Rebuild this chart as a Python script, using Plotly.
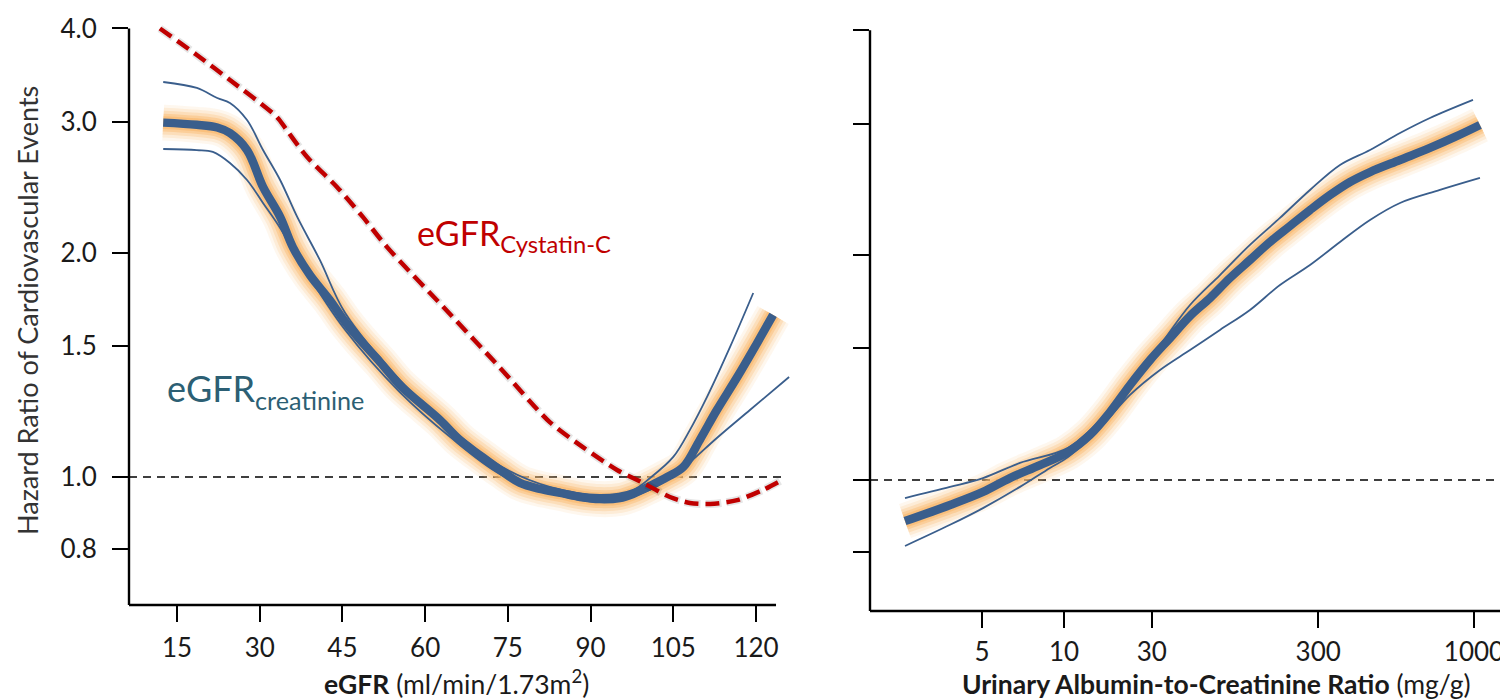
import numpy as np
import plotly.graph_objects as go

# ---------------- data ----------------
# Left panel: eGFR (ml/min/1.73m2) vs hazard ratio
EGFR_CR_X = [12.5, 18.6, 22.3, 24.6, 27.7, 30.6, 33.7, 36.0, 39.1, 42.7, 45.5, 48.2, 51.8, 55.4,
             59.1, 62.7, 66.3, 69.9, 73.6, 77.2, 80.8, 84.5, 88.1, 91.7, 95.3, 97.7, 100.8,
             103.9, 106.8, 109.8, 112.9, 116.6, 120.2, 123.1]
EGFR_CR_HR = [2.99, 2.97, 2.945, 2.895, 2.747, 2.451, 2.234, 2.035, 1.867, 1.728, 1.615, 1.527,
              1.427, 1.329, 1.257, 1.192, 1.121, 1.070, 1.022, 0.982, 0.964, 0.952, 0.940, 0.934,
              0.937, 0.949, 0.973, 1.0, 1.031, 1.121, 1.230, 1.362, 1.513, 1.650]

EGFR_CR_UP_X = [12.5, 18.6, 22.3, 24.6, 27.7, 30.6, 33.7, 36.8, 40.9, 45.5, 55.4, 64.5, 73.6,
                82.6, 91.7, 97.7, 100.8, 105.0, 108.0, 111.1, 115.3, 119.5]
EGFR_CR_UP_HR = [3.390, 3.328, 3.226, 3.177, 3.014, 2.747, 2.504, 2.234, 1.956, 1.660, 1.350,
                 1.164, 1.035, 0.970, 0.946, 0.961, 0.997, 1.064, 1.156, 1.280, 1.495, 1.766]

EGFR_CR_LO_X = [12.5, 18.6, 21.5, 24.6, 27.7, 30.6, 33.7, 37.3, 45.5, 55.4, 64.5, 73.6, 82.6,
                91.7, 99.0, 105.7, 108.5, 112.9, 118.9, 126.0]
EGFR_CR_LO_HR = [2.756, 2.747, 2.731, 2.639, 2.504, 2.332, 2.159, 1.944, 1.575, 1.300, 1.132,
                 1.009, 0.952, 0.926, 0.949, 1.012, 1.054, 1.128, 1.230, 1.362]

EGFR_CYS_X = [11.9, 18.6, 24.6, 33.1, 34.9, 38.6, 44.0, 48.7, 53.1, 64.5, 73.6, 82.6, 88.6,
              94.8, 99.5, 104.4, 108.0, 111.7, 116.6, 121.3, 124.4]
EGFR_CYS_HR = [4.0, 3.685, 3.411, 3.043, 2.922, 2.688, 2.451, 2.234, 2.035, 1.655, 1.401, 1.185,
               1.097, 1.022, 0.982, 0.940, 0.923, 0.920, 0.931, 0.961, 0.988]

EGFR_TICKS = [15, 30, 45, 60, 75, 90, 105, 120]

# Right panel: ACR, plotted on the figure's own (non-uniform) ACR scale positions
ACR_TICK_LABELS = ["5", "10", "30", "300", "1000"]
ACR_TICK_POS = [0.0, 1.0, 2.07, 4.10, 6.0]

ACR_X = [-0.939, -0.390, 0.012, 0.341, 0.707, 1.049, 1.317, 1.561, 1.805, 2.049, 2.293, 2.537,
         2.780, 3.024, 3.268, 3.512, 3.756, 4.0, 4.244, 4.488, 4.732, 5.098, 5.463, 5.768, 6.073]
ACR_HR = [0.881, 0.926, 0.964, 1.006, 1.047, 1.090, 1.149, 1.233, 1.340, 1.447, 1.549, 1.658,
          1.752, 1.864, 1.970, 2.083, 2.188, 2.298, 2.407, 2.506, 2.584, 2.682, 2.783, 2.879, 2.987]

ACR_UP_X = [-0.939, -0.390, 0.012, 0.463, 1.049, 1.439, 1.805, 2.171, 2.537, 2.902, 3.268, 3.634,
            4.0, 4.366, 4.732, 5.098, 5.463, 5.988]
ACR_UP_HR = [0.946, 0.979, 1.006, 1.054, 1.104, 1.203, 1.353, 1.516, 1.715, 1.881, 2.064, 2.243,
             2.445, 2.641, 2.766, 2.914, 3.052, 3.227]

ACR_LO_X = [-0.939, -0.390, 0.012, 0.463, 0.829, 1.049, 1.439, 1.805, 2.171, 2.537, 2.902, 3.268,
            3.634, 4.0, 4.366, 4.732, 5.098, 5.585, 6.073]
ACR_LO_HR = [0.816, 0.871, 0.917, 0.979, 1.038, 1.073, 1.174, 1.300, 1.404, 1.493, 1.588, 1.689,
             1.824, 1.940, 2.083, 2.229, 2.349, 2.445, 2.537]

HR_TICKS = [0.8, 1.0, 1.5, 2.0, 3.0, 4.0]
HR_TICK_TEXT = ["0.8", "1.0", "1.5", "2.0", "3.0", "4.0"]

# ---------------- styling ----------------
OFF = 8                      # page body margin of the html output
WIN_W, WIN_H = 1508, 699
W, H = WIN_W - OFF, WIN_H - OFF
BLUE = "#3A5E8C"
RED = "#C00000"
TEAL = "#2C5F74"
FONT = "Lato"


def fx(px):
    return (px - OFF) / W


def fy(py):
    return (WIN_H - py) / H


# axis geometry (window pixels)
LX0, LX1 = 129, 800
LY_BOT, LY_TOP = 605, 12
RX0, RX1 = 870, 1508
RY_BOT, RY_TOP = 611, 12

x1_range = [6.295, 127.98]
y1_range = [-(LY_BOT - 477) / 745, (477 - LY_TOP) / 745]
x2_range = [-1.366, 6.415]
y2_range = [-(RY_BOT - 480) / 747, (480 - RY_TOP) / 747]

fig = go.Figure()


def add_curve_set(xa, ya, xs, ys, xu, yu, xl, yl):
    for w, a in [(36, 0.12), (30, 0.18), (24, 0.28), (18, 0.45), (13, 0.7)]:
        fig.add_trace(go.Scatter(x=xs, y=ys, mode="lines", xaxis=xa, yaxis=ya,
                                 line=dict(color=f"rgba(250,186,112,{a})", width=w,
                                           shape="spline", smoothing=1.0),
                                 hoverinfo="skip", showlegend=False))
    for cx, cy in [(xu, yu), (xl, yl)]:
        fig.add_trace(go.Scatter(x=cx, y=cy, mode="lines", xaxis=xa, yaxis=ya,
                                 line=dict(color=BLUE, width=1.8, shape="spline", smoothing=1.0),
                                 hoverinfo="skip", showlegend=False))
    fig.add_trace(go.Scatter(x=xs, y=ys, mode="lines", xaxis=xa, yaxis=ya,
                             line=dict(color=BLUE, width=8.5, shape="spline", smoothing=1.0),
                             hoverinfo="skip", showlegend=False))


# reference lines at HR = 1
fig.add_trace(go.Scatter(x=[x1_range[0], 125.3], y=[1, 1], mode="lines", xaxis="x", yaxis="y",
                         line=dict(color="black", width=1.6, dash="8px,6px"),
                         hoverinfo="skip", showlegend=False))
fig.add_trace(go.Scatter(x=x2_range, y=[1, 1], mode="lines", xaxis="x2", yaxis="y2",
                         line=dict(color="black", width=1.6, dash="8px,6px"),
                         hoverinfo="skip", showlegend=False))

add_curve_set("x", "y", EGFR_CR_X, EGFR_CR_HR, EGFR_CR_UP_X, EGFR_CR_UP_HR,
              EGFR_CR_LO_X, EGFR_CR_LO_HR)

# cystatin-C dashed curve with soft shadow
fig.add_trace(go.Scatter(x=EGFR_CYS_X, y=EGFR_CYS_HR, mode="lines", xaxis="x", yaxis="y",
                         line=dict(color="rgba(0,0,0,0.10)", width=8, dash="16px,5px",
                                   shape="spline", smoothing=0.8),
                         hoverinfo="skip", showlegend=False))
fig.add_trace(go.Scatter(x=EGFR_CYS_X, y=EGFR_CYS_HR, mode="lines", xaxis="x", yaxis="y",
                         line=dict(color=RED, width=4.5, dash="14px,7px",
                                   shape="spline", smoothing=0.8),
                         hoverinfo="skip", showlegend=False))

add_curve_set("x2", "y2", ACR_X, ACR_HR, ACR_UP_X, ACR_UP_HR, ACR_LO_X, ACR_LO_HR)

tickfont = dict(family=FONT, size=26, color="#1a1a1a")
common_axis = dict(ticks="outside", ticklen=16, tickwidth=2.2, tickcolor="black",
                   showgrid=False, zeroline=False, showline=False, fixedrange=True)

fig.update_layout(
    width=W, height=H,
    margin=dict(l=0, r=0, t=0, b=0),
    paper_bgcolor="white", plot_bgcolor="white",
    showlegend=False,
    xaxis=dict(domain=[fx(LX0), fx(LX1)], range=x1_range, anchor="y",
               tickvals=EGFR_TICKS, ticktext=[str(t) for t in EGFR_TICKS],
               tickfont=tickfont, ticklabelstandoff=4, **common_axis),
    yaxis=dict(domain=[fy(LY_BOT), fy(LY_TOP)], range=y1_range, type="log",
               anchor="x", tickvals=HR_TICKS, ticktext=HR_TICK_TEXT,
               tickfont=tickfont, ticklabelstandoff=10, **common_axis),
    xaxis2=dict(domain=[fx(RX0), min(1.0, fx(RX1))], range=x2_range, anchor="y2",
                tickvals=ACR_TICK_POS, ticktext=ACR_TICK_LABELS,
                tickfont=tickfont, ticklabelstandoff=2, **common_axis),
    yaxis2=dict(domain=[fy(RY_BOT), fy(RY_TOP)], range=y2_range, type="log",
                anchor="x2", tickvals=HR_TICKS, showticklabels=False, **common_axis),
)


# axis lines (drawn to the extent of the original axes)
def frac(v, rng):
    return (v - rng[0]) / (rng[1] - rng[0])


top1 = frac(np.log10(4.0), y1_range)
top2 = frac(np.log10(4.0), y2_range)
xend1 = frac(123.63, x1_range)
line_style = dict(color="black", width=2.4)
fig.add_shape(type="line", xref="x domain", yref="y domain", x0=0, x1=0, y0=0, y1=top1, line=line_style)
fig.add_shape(type="line", xref="x domain", yref="y domain", x0=0, x1=xend1, y0=0, y1=0, line=line_style)
fig.add_shape(type="line", xref="x2 domain", yref="y2 domain", x0=0, x1=0, y0=0, y1=top2, line=line_style)
fig.add_shape(type="line", xref="x2 domain", yref="y2 domain", x0=0, x1=1, y0=0, y1=0, line=line_style)

# titles and labels
fig.add_annotation(text="Hazard Ratio of Cardiovascular Events", xref="paper", yref="paper",
                   x=fx(27), y=fy(311), textangle=-90, showarrow=False,
                   font=dict(family=FONT, size=27, color="#333333"),
                   xanchor="center", yanchor="middle")
fig.add_annotation(text="<b>eGFR</b> (ml/min/1.73m<sup>2</sup>)", xref="paper", yref="paper",
                   x=fx(456), y=fy(682), showarrow=False,
                   font=dict(family=FONT, size=26.5, color="#1a1a1a"),
                   xanchor="center", yanchor="middle")
fig.add_annotation(text="<b>Urinary Albumin-to-Creatinine Ratio</b> (mg/g)", xref="paper", yref="paper",
                   x=fx(1216), y=fy(684), showarrow=False,
                   font=dict(family=FONT, size=26.5, color="#1a1a1a"),
                   xanchor="center", yanchor="middle")
fig.add_annotation(text="eGFR<sub>Cystatin-C</sub>", xref="paper", yref="paper",
                   x=fx(415), y=fy(235), showarrow=False,
                   font=dict(family=FONT, size=34, color=RED),
                   xanchor="left", yanchor="middle")
fig.add_annotation(text="eGFR<sub>creatinine</sub>", xref="paper", yref="paper",
                   x=fx(165), y=fy(390), showarrow=False,
                   font=dict(family=FONT, size=36, color=TEAL),
                   xanchor="left", yanchor="middle")

fig.write_html("out.html")
